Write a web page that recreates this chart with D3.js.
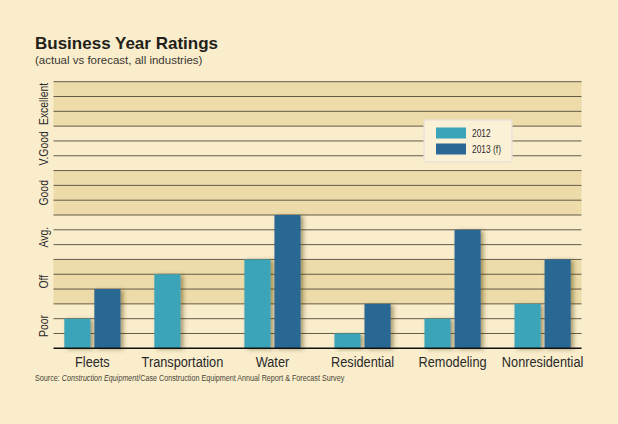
<!DOCTYPE html>
<html>
<head>
<meta charset="utf-8">
<script src="https://cdn.jsdelivr.net/npm/d3@7"></script>
<style>
  body { margin: 0; background: #f9edcc; }
  svg { display: block; }
</style>
</head>
<body>
<div id="svgContainer"></div>
<script>
// data (units = grid steps, 3 per rating band)
const categories = ["Fleets", "Transportation", "Water", "Residential", "Remodeling", "Nonresidential"];
const seriesNames = ["2012", "2013 (f)"];
const values2012 = [2, 5, 6, 1, 2, 3];
const values2013 = [4, 0, 9, 3, 8, 6];
const ratingLabels = ["Poor", "Off", "Avg.", "Good", "V.Good", "Excellent"];

const width = 618, height = 424;
const sans = "'Liberation Sans', Arial, sans-serif";
const squeeze = 0.8; // fake a condensed face by squeezing the glyphs
const colors = ["#3ba4b8", "#2b6794"];

let svg = d3.select("#svgContainer").append("svg")
    .attr("width", width)
    .attr("height", height);

svg.append("rect").attr("width", width).attr("height", height).attr("fill", "#f9edcc");

let defs = svg.append("defs");
let shadow = defs.append("filter").attr("id", "shadow")
    .attr("x", "-20%").attr("y", "-10%").attr("width", "160%").attr("height", "130%");
shadow.append("feDropShadow")
    .attr("dx", 3).attr("dy", 1).attr("stdDeviation", 2)
    .attr("flood-color", "#4a3a10").attr("flood-opacity", 0.45);

let y = d3.scaleLinear().domain([0, 18]).range([348.3, 81.7]);
let x = d3.scaleBand().domain(categories).range([53.5, 581.5]).paddingInner(0.376).paddingOuter(0.12);
let xs = d3.scaleBand().domain(seriesNames).range([0, x.bandwidth()]).paddingInner(0.13);

// rating bands, every other one shaded
svg.selectAll("rect.band")
    .data(ratingLabels)
    .join("rect")
    .attr("class", "band")
    .attr("x", 53.5)
    .attr("width", 528)
    .attr("y", (d, i) => y(i * 3 + 3))
    .attr("height", (d, i) => y(i * 3) - y(i * 3 + 3))
    .attr("fill", (d, i) => i % 2 ? "#eddcaa" : "#f9edcc");

// gridlines
svg.selectAll("line.grid")
    .data(d3.range(1, 19))
    .join("line")
    .attr("class", "grid")
    .attr("x1", 53.5).attr("x2", 581.5)
    .attr("y1", d => y(d)).attr("y2", d => y(d))
    .style("stroke", "#544c3a")
    .style("stroke-width", 0.9);

// band labels
svg.selectAll("text.rating")
    .data(ratingLabels)
    .join("text")
    .attr("class", "rating")
    .attr("transform", (d, i) => `translate(48,${y(i * 3 + 1.5)}) rotate(-90) scale(${squeeze},1)`)
    .attr("text-anchor", "middle")
    .style("font-family", sans)
    .style("font-size", "13px")
    .style("fill", "#2a2a2a")
    .text(d => d);

// bars
let groups = svg.selectAll("g.cat")
    .data(categories.map((c, i) => ({ cat: c, vals: [values2012[i], values2013[i]] })))
    .join("g")
    .attr("class", "cat")
    .attr("transform", d => `translate(${x(d.cat)},0)`);

groups.selectAll("rect")
    .data(d => d.vals.map((v, j) => ({ key: seriesNames[j], value: v, j: j })).filter(d => d.value > 0))
    .join("rect")
    .attr("x", d => xs(d.key))
    .attr("width", xs.bandwidth())
    .attr("y", d => y(d.value))
    .attr("height", d => y(0) - y(d.value))
    .attr("fill", d => colors[d.j])
    .attr("filter", "url(#shadow)");

// baseline
svg.append("line")
    .attr("x1", 53.5).attr("x2", 581.5)
    .attr("y1", y(0)).attr("y2", y(0))
    .style("stroke", "#111")
    .style("stroke-width", 1.6);

// category labels
svg.selectAll("text.catlabel")
    .data(categories)
    .join("text")
    .attr("class", "catlabel")
    .attr("transform", d => `translate(${x(d) + x.bandwidth() / 2},366.5) scale(0.88,1)`)
    .attr("text-anchor", "middle")
    .style("font-family", sans)
    .style("font-size", "14.5px")
    .style("fill", "#2a2a2a")
    .text(d => d);

// legend
let legend = svg.append("g").attr("transform", "translate(424,120)");
legend.append("rect")
    .attr("width", 88).attr("height", 42)
    .attr("fill", "#fbf1d6")
    .attr("stroke", "#e6e2da")
    .attr("stroke-width", 1.2);
seriesNames.forEach((name, i) => {
    legend.append("rect")
        .attr("x", 12).attr("y", 7.5 + i * 16)
        .attr("width", 30).attr("height", 11)
        .attr("fill", colors[i]);
    legend.append("text")
        .attr("transform", `translate(48,${17 + i * 16}) scale(${squeeze},1)`)
        .style("font-family", sans)
        .style("font-size", "10.5px")
        .style("fill", "#2a2a2a")
        .text(name);
});

// titles
svg.append("text")
    .attr("x", 35).attr("y", 48.5)
    .style("font-family", sans)
    .style("font-weight", "bold")
    .style("font-size", "17px")
    .style("fill", "#231f1a")
    .text("Business Year Ratings");

svg.append("text")
    .attr("x", 35).attr("y", 63.5)
    .style("font-family", sans)
    .style("font-size", "11.5px")
    .style("fill", "#3a3630")
    .text("(actual vs forecast, all industries)");

let source = svg.append("text")
    .attr("transform", `translate(35,381) scale(${squeeze},1)`)
    .style("font-family", sans)
    .style("font-size", "9px")
    .style("fill", "#4a4538");
source.append("tspan").text("Source: ");
source.append("tspan").style("font-style", "italic").text("Construction Equipment");
source.append("tspan").text("/Case Construction Equipment Annual Report & Forecast Survey");
</script>
</body>
</html>
